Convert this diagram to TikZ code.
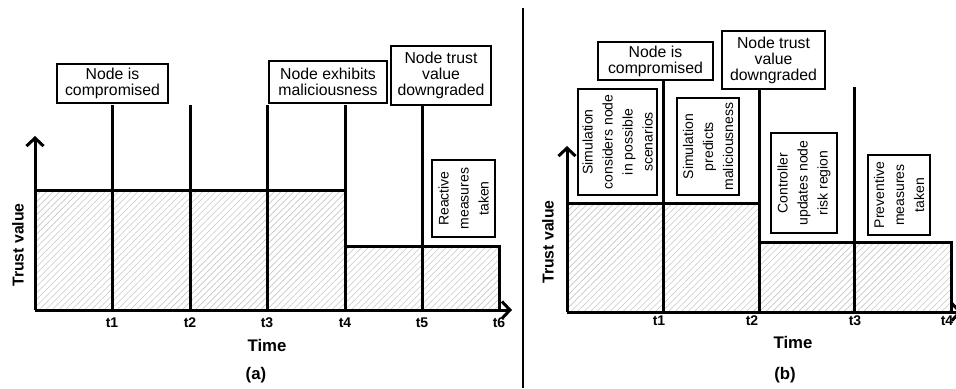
\documentclass[tikz,border=0pt]{standalone}
\usepackage{fontspec}
\setmainfont{Liberation Sans}
\usetikzlibrary{arrows.meta,patterns.meta,positioning}

\tikzset{
    bar/.style={line width=1.5pt},
    axisarrow/.style={bar, -{Straight Barb[length=4pt,width=8.5pt,line width=1.5pt]}},
    hatch/.style={pattern={Lines[angle=45,distance=2.3pt,line width=0.3pt]}, pattern color=gray!45},
    event/.style={draw, line width=0.7pt, align=center, inner sep=1pt,
                  font=\fontsize{7.9}{8}\selectfont},
    action/.style={event, rotate=90, font=\fontsize{7}{10}\selectfont},
    tick/.style={font=\bfseries\fontsize{7}{7}\selectfont},
    axislabel/.style={font=\bfseries\fontsize{8.4}{9}\selectfont}
}

\begin{document}
\begin{tikzpicture}[x=0.5pt, y=-0.5pt]
    \useasboundingbox (0,0) rectangle (956,388);
    % (a) reactive
    \fill[hatch] (35,310) -- (35,190) -- (345,190) -- (345,246) -- (499,246) -- (499,310) -- cycle;
    \draw[bar] (35,190) -- (345,190) -- (345,246) -- (499,246) -- (499,310);
    \coordinate (oA) at (35,310);
    \foreach \x [count=\i] in {112,190,267,345,422,499} {
        \coordinate (a\i) at (\x,310);
        \node[tick] (ta\i) at (\x,323) {t\i};
    }
    \foreach \i in {1,...,5} \draw[bar] (a\i) -- ++(0,-205);
    \draw[axisarrow] (oA) -- (512,310);
    \draw[axisarrow] (oA) -- (35,136);
    \node[event, minimum width=55.5pt, minimum height=19.5pt] (compA) at (112.5,83.5) {Node is\\compromised};
    \node[event, minimum width=59pt, minimum height=21pt] (malA) at (328,82) {Node exhibits\\maliciousness};
    \node[event, minimum width=50pt, minimum height=29.5pt] (downA) at (441,75.5) {Node trust\\value\\downgraded};
    \node[action, minimum width=38.5pt, minimum height=31.5pt] (reactA) at (463.5,198.5) {Reactive\\measures\\taken};
    \node[axislabel, rotate=90, font=\bfseries\fontsize{7.9}{8}\selectfont] (yA) at (18,245) {Trust value};
    \node[axislabel] (xA) at (267,345) {Time};
    \node[axislabel] (capA) at (256,375) {(a)};
    % divider
    \draw[line width=0.75pt] (523,8) -- (523,388);
    % (b) preventive
    \fill[hatch] (567,312) -- (567,203) -- (759,203) -- (759,242) -- (951,242) -- (951,312) -- cycle;
    \draw[bar] (567,203) -- (759,203) -- (759,242) -- (951,242) -- (951,312);
    \coordinate (oB) at (567,312);
    \foreach \x/\l [count=\i] in {663/659,759/752,854/855,951/947} {
        \coordinate (b\i) at (\x,312);
        \node[tick] (tb\i) at (\l,321) {t\i};
    }
    \draw[axisarrow] (oB) -- (962,312);
    \draw[axisarrow] (oB) -- (567,146);
    \node[event, minimum width=57.5pt, minimum height=19pt] (compB) at (655.5,61) {Node is\\compromised};
    \node[event, minimum width=51.5pt, minimum height=29pt] (downB) at (773.5,60) {Node trust\\value\\downgraded};
    \draw[bar] (compB.south -| b1) -- (b1);
    \draw[bar] (downB.south -| b2) -- (b2);
    \draw[bar] (b3) -- ++(0,-225);
    \node[action, minimum width=53pt, minimum height=39.5pt] (simB) at (617.5,142) {Simulation\\considers node\\in possible\\scenarios};
    \node[action, minimum width=48.5pt, minimum height=31pt] (predB) at (708,146.5) {Simulation\\predicts\\maliciousness};
    \node[action, minimum width=50pt, minimum height=33pt] (ctrlB) at (804,183) {Controller\\updates node\\risk region};
    \node[action, minimum width=40pt, minimum height=31pt] (prevB) at (899,195) {Preventive\\measures\\taken};
    \node[axislabel, rotate=90, font=\bfseries\fontsize{7.9}{8}\selectfont] (yB) at (548,242) {Trust value};
    \node[axislabel] (xB) at (793,342) {Time};
    \node[axislabel] (capB) at (785,375) {(b)};
\end{tikzpicture}
\end{document}
